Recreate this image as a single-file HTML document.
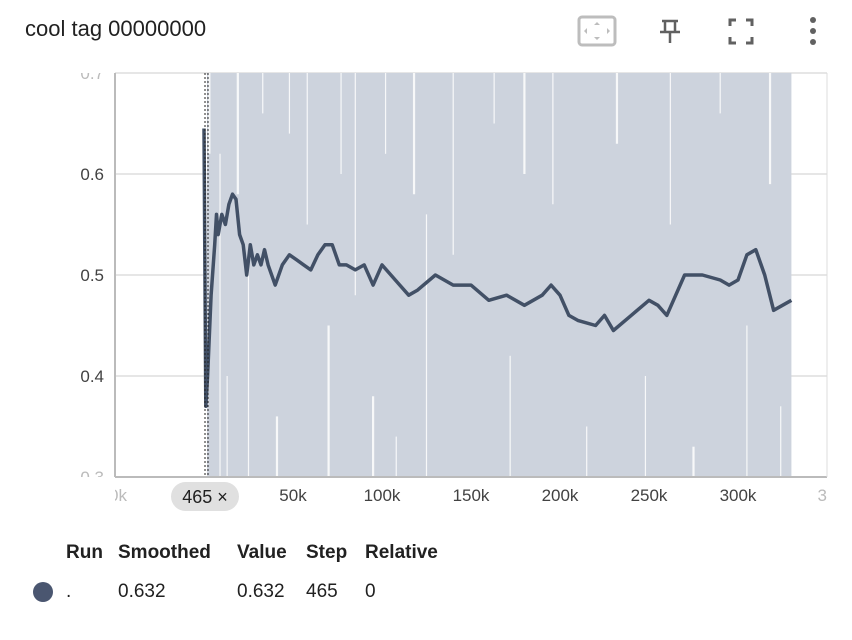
<!DOCTYPE html>
<html><head><meta charset="utf-8"><style>
body{margin:0;width:852px;height:640px;background:#fff;font-family:"Liberation Sans",sans-serif;overflow:hidden;position:relative}
.t{position:absolute;color:#212121}
</style></head><body>
<div class="t" style="left:25px;top:16px;font-size:22px">cool tag 00000000</div>
<svg width="852" height="70" style="position:absolute;left:0;top:0">
<g><rect x="579" y="17" width="36" height="28" rx="3" fill="none" stroke="#bdbdbd" stroke-width="3"/><path d="M597 22l3 3h-6zM597 40l3-3h-6zM584 31l3-3v6zM610 31l-3-3v6z" fill="#bdbdbd"/></g>
<g fill="none" stroke="#616161" stroke-width="2.5"><path d="M662 21h16M665 21v10M675 21v10M660 32h20M670 32v11"/></g>
<g fill="none" stroke="#616161" stroke-width="3"><path d="M730 26v-6h6M746 20h6v6M752 37v6h-6M736 43h-6v-6"/></g>
<g fill="#616161"><circle cx="813" cy="20" r="3"/><circle cx="813" cy="31" r="3"/><circle cx="813" cy="42" r="3"/></g>
</svg>
<svg id="chart" width="852" height="530" style="position:absolute;left:0;top:0"></svg>
<div class="t" style="left:66px;top:542px;font-size:19px;font-weight:bold">Run</div>
<div class="t" style="left:118px;top:542px;font-size:19px;font-weight:bold">Smoothed</div>
<div class="t" style="left:237px;top:542px;font-size:19px;font-weight:bold">Value</div>
<div class="t" style="left:306px;top:542px;font-size:19px;font-weight:bold">Step</div>
<div class="t" style="left:365px;top:542px;font-size:19px;font-weight:bold">Relative</div>
<div style="position:absolute;left:33px;top:582px;width:20px;height:20px;border-radius:50%;background:#4a5670"></div>
<div class="t" style="left:66px;top:581px;font-size:19px">.</div>
<div class="t" style="left:118px;top:581px;font-size:19px">0.632</div>
<div class="t" style="left:237px;top:581px;font-size:19px">0.632</div>
<div class="t" style="left:306px;top:581px;font-size:19px">465</div>
<div class="t" style="left:365px;top:581px;font-size:19px">0</div>
<script>
const yTicks=[0.3,0.4,0.5,0.6,0.7];
const xTicks=[0,50000,100000,150000,200000,250000,300000,350000];
const xTickLabels=["0k","50k","100k","150k","200k","250k","300k","35"];
const steps=[0,1,2,4,6,7,8,10,12,14,16,18,20,22,24,26,28,30,32,34,36,40,44,48,52,56,60,64,68,72,76,80,85,90,95,100,105,110,115,120,130,140,150,160,170,180,190,195,200,205,210,220,225,230,240,250,255,260,265,270,280,290,295,300,305,310,315,320,325,330];
const smoothed=[0.645,0.37,0.40,0.48,0.53,0.56,0.54,0.56,0.55,0.57,0.58,0.575,0.54,0.53,0.50,0.53,0.51,0.52,0.51,0.525,0.51,0.49,0.51,0.52,0.515,0.51,0.505,0.52,0.53,0.53,0.51,0.51,0.505,0.51,0.49,0.51,0.50,0.49,0.48,0.485,0.50,0.49,0.49,0.475,0.48,0.47,0.48,0.49,0.48,0.46,0.455,0.45,0.46,0.445,0.46,0.475,0.47,0.46,0.48,0.50,0.50,0.495,0.49,0.495,0.52,0.525,0.50,0.465,0.47,0.475];
const gapSteps=[3,9,13,19,25,33,41,48,58,70,77,85,95,102,108,118,125,140,150,163,172,180,196,215,232,248,262,275,290,305,318,324];
const gapTop=[0.70,0.62,0.40,0.70,0.52,0.70,0.36,0.70,0.70,0.45,0.70,0.70,0.38,0.70,0.34,0.70,0.56,0.70,0.30,0.70,0.42,0.70,0.70,0.35,0.70,0.40,0.70,0.33,0.70,0.45,0.70,0.37];
const gapBot=[0.62,0.30,0.30,0.58,0.30,0.66,0.30,0.64,0.55,0.30,0.60,0.48,0.30,0.62,0.30,0.58,0.30,0.52,0.30,0.65,0.30,0.60,0.57,0.30,0.63,0.30,0.55,0.30,0.66,0.30,0.59,0.30];
const L=115,R=827,T=73,B=477;
const X=s=>204+s*89/50000, Y=v=>477-(v-0.3)*1010;
const svg=document.getElementById('chart'),NS='http://www.w3.org/2000/svg';
function mk(t,a,p){const e=document.createElementNS(NS,t);for(const k in a)e.setAttribute(k,a[k]);(p||svg).appendChild(e);return e;}
let e=mk('rect',{x:L,y:T,width:R-L,height:B-T,fill:'#fff'});

yTicks.forEach(v=>{e=mk('line',{x1:L,x2:R,y1:Y(v),y2:Y(v),stroke:'#ddd','stroke-width':1.5});
});
e=mk('rect',{x:X(steps[0]*1000)+3,y:T,width:X(steps[steps.length-1]*1000)-X(0)-3,height:B-T,fill:'#cdd3dd'});

gapSteps.forEach((g,i)=>{e=mk('line',{x1:X(g*1000),x2:X(g*1000),y1:Y(gapTop[i]),y2:Y(gapBot[i]),stroke:'#fff','stroke-width':i%3?1.2:2.2,opacity:0.85});
});
const cp=mk('clipPath',{id:'cp'});mk('rect',{x:0,y:T,width:852,height:B-T},cp);
yTicks.forEach(v=>{e=mk('text',{x:104,y:Y(v)+6,'text-anchor':'end','font-size':17,fill:(v<0.35||v>0.65)?'#bbb':'#424242','clip-path':'url(#cp)'});e.textContent=v.toFixed(1);
});
e=mk('line',{x1:L,x2:L,y1:T,y2:B,stroke:'#bbb','stroke-width':2});
e=mk('line',{x1:L,x2:R,y1:B,y2:B,stroke:'#bbb','stroke-width':2});
e=mk('line',{x1:R,x2:R,y1:T,y2:B,stroke:'#ddd','stroke-width':1});
const cx=mk('clipPath',{id:'cx'});mk('rect',{x:L,y:480,width:R-L,height:30},cx);
xTicks.forEach((s,i)=>{e=mk('text',{x:X(s)-(s===0?86:0),y:501,'text-anchor':'middle','font-size':17,fill:(s===0||s===350000)?'#bbb':'#424242','clip-path':'url(#cx)'});e.textContent=xTickLabels[i];
});
e=mk('path',{d:steps.map((s,i)=>(i?'L':'M')+X(s*1000).toFixed(1)+' '+Y(smoothed[i]).toFixed(1)).join(''),fill:'none',stroke:'#425066','stroke-width':3.5,'stroke-linejoin':'round'});

e=mk('line',{x1:205,x2:205,y1:T,y2:B,stroke:'#222','stroke-width':1,'stroke-dasharray':'2,2'});
e=mk('line',{x1:208,x2:208,y1:T,y2:B,stroke:'#222','stroke-width':1,'stroke-dasharray':'2,2'});
const g=mk('g',{});
mk('rect',{x:171,y:482,width:68,height:29,rx:14.5,fill:'#e0e0e0'},g);
e=mk('text',{x:205,y:503,'text-anchor':'middle','font-size':18,fill:'#212121'},g);e.textContent='465 ×';
</script>
</body></html>
